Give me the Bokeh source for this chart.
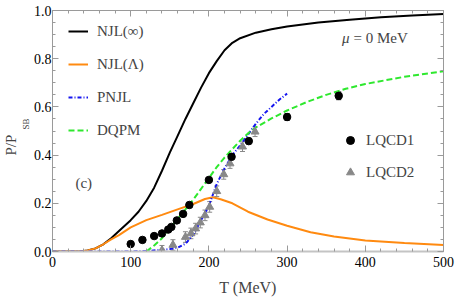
import numpy as np
from bokeh.plotting import figure
from bokeh.models import (Range1d, LinearAxis, SingleIntervalTicker, Legend, LegendItem,
                          Label, Whisker, ColumnDataSource, TeeHead, CustomJSTickFormatter, Title)
from bokeh.embed import file_html
from bokeh.resources import INLINE

# ---- data ----
T_njl_inf = [0, 35, 45, 55, 65, 75, 85, 100, 110, 120, 130, 140, 150, 160, 170, 180, 190, 200,
             210, 220, 230, 240, 260, 280, 300, 340, 380, 420, 460, 500]
P_njl_inf = [0, 0, 0.004, 0.013, 0.03, 0.055, 0.085, 0.13, 0.165, 0.21, 0.265, 0.335, 0.41, 0.48,
             0.55, 0.615, 0.68, 0.74, 0.79, 0.835, 0.866, 0.885, 0.908, 0.922, 0.934, 0.95, 0.962,
             0.972, 0.979, 0.985]

T_njl_lam = [0, 35, 45, 55, 65, 75, 85, 100, 120, 140, 160, 180, 195, 205, 215, 230, 250, 275,
             300, 330, 360, 400, 450, 500]
P_njl_lam = [0, 0, 0.004, 0.013, 0.03, 0.05, 0.068, 0.1, 0.13, 0.152, 0.175, 0.197, 0.218, 0.225,
             0.217, 0.2, 0.165, 0.133, 0.107, 0.08, 0.062, 0.046, 0.035, 0.027]

T_pnjl = [0, 100, 120, 140, 150, 160, 170, 180, 190, 200, 210, 220, 230, 240, 250, 260, 270, 280,
          290, 300]
P_pnjl = [0, 0, 0.002, 0.007, 0.01, 0.016, 0.032, 0.07, 0.13, 0.19, 0.28, 0.345, 0.40, 0.44, 0.485,
          0.53, 0.57, 0.60, 0.63, 0.655]

T_dqpm = [120, 130, 140, 150, 160, 170, 180, 190, 200, 210, 220, 230, 240, 250, 260, 280, 300, 325,
          350, 375, 400, 450, 500]
P_dqpm = [0, 0.025, 0.055, 0.095, 0.135, 0.175, 0.215, 0.26, 0.305, 0.35, 0.39, 0.425, 0.46, 0.49,
          0.515, 0.552, 0.585, 0.62, 0.65, 0.675, 0.695, 0.725, 0.748]

T_lqcd1 = [100, 115, 130, 140, 148, 152, 159, 167, 175, 200, 229, 251, 300, 366]
P_lqcd1 = [0.031, 0.048, 0.064, 0.075, 0.091, 0.102, 0.129, 0.156, 0.193, 0.297, 0.393, 0.458,
           0.558, 0.646]
E_lqcd1 = [0.005, 0.005, 0.005, 0.005, 0.006, 0.006, 0.007, 0.008, 0.008, 0.01, 0.012, 0.012,
           0.014, 0.016]

T_lqcd2 = [140, 154, 170, 177, 183, 189, 195, 201, 210, 219, 227, 243, 259]
P_lqcd2 = [0.005, 0.027, 0.06, 0.075, 0.095, 0.12, 0.15, 0.185, 0.25, 0.32, 0.365, 0.435, 0.497]
E_lqcd2 = [0.02, 0.022, 0.022, 0.022, 0.022, 0.022, 0.022, 0.022, 0.022, 0.02, 0.02, 0.02, 0.02]

x_ticks_interval = 100
y_ticks_interval = 0.2

FONT = "Liberation Serif"
GRAY = "#9a9a9a"

p = figure(width=455, height=298, output_backend="svg", toolbar_location=None,
           x_range=Range1d(0, 500), y_range=Range1d(0, 1.0),
           min_border_left=52, min_border_right=12, min_border_top=10, min_border_bottom=46)
p.outline_line_color = None
p.xgrid.visible = False
p.ygrid.visible = False
p.background_fill_color = "white"


def style_axis(ax, interval, minor, show_labels=True):
    ax.ticker = SingleIntervalTicker(interval=interval, num_minor_ticks=minor)
    ax.major_tick_in = 6
    ax.major_tick_out = 0
    ax.minor_tick_in = 3
    ax.minor_tick_out = 0
    ax.major_tick_line_color = GRAY
    ax.minor_tick_line_color = GRAY
    ax.axis_line_color = GRAY
    ax.major_label_text_font = FONT
    ax.major_label_text_font_size = "14px"
    ax.major_label_text_color = "black"
    ax.axis_label_text_font = FONT
    ax.axis_label_text_font_style = "normal"
    ax.axis_label_text_font_size = "16px"
    if not show_labels:
        ax.formatter = CustomJSTickFormatter(code="return ''")


style_axis(p.xaxis[0], x_ticks_interval, 5)
style_axis(p.yaxis[0], y_ticks_interval, 4)
p.xaxis[0].axis_line_color = "#c4c4c4"
p.xaxis[0].axis_line_width = 2
p.xaxis[0].major_label_standoff = 5
p.yaxis[0].major_label_standoff = 1
p.yaxis[0].axis_label_standoff = 0
p.xaxis[0].axis_label = "T (MeV)"
p.xaxis[0].axis_label_standoff = 9
p.yaxis[0].formatter = CustomJSTickFormatter(code="return tick.toFixed(1)")

top = LinearAxis()
style_axis(top, x_ticks_interval, 5, show_labels=False)
p.add_layout(top, "above")
right = LinearAxis()
style_axis(right, y_ticks_interval, 4, show_labels=False)
p.add_layout(right, "right")

# y label as two titles on the left: "SB" subscript (inner column, higher up), "P/P" outer
p.add_layout(Title(text="SB", align="left", offset=122, standoff=0,
                   text_font=FONT, text_font_size="9px", text_font_style="normal"), "left")
p.add_layout(Title(text="P/P", align="left", offset=96, standoff=0,
                   text_font=FONT, text_font_size="15px", text_font_style="normal"), "left")

# ---- curves ----
r_inf = p.line(T_njl_inf, P_njl_inf, line_color="black", line_width=2)
r_lam = p.line(T_njl_lam, P_njl_lam, line_color="#ff8a10", line_width=2)
r_pnjl = p.line(T_pnjl, P_pnjl, line_color="#1414f0", line_width=2, line_dash="4 2 1 2")
r_dqpm = p.line(T_dqpm, P_dqpm, line_color="#2ee82e", line_width=2, line_dash="6 3")

# ---- lattice data ----
s1 = ColumnDataSource(dict(x=T_lqcd1, y=P_lqcd1,
                           lo=[a - b for a, b in zip(P_lqcd1, E_lqcd1)],
                           hi=[a + b for a, b in zip(P_lqcd1, E_lqcd1)]))
s2 = ColumnDataSource(dict(x=T_lqcd2, y=P_lqcd2,
                           lo=[a - b for a, b in zip(P_lqcd2, E_lqcd2)],
                           hi=[a + b for a, b in zip(P_lqcd2, E_lqcd2)]))
p.add_layout(Whisker(source=s2, base="x", lower="lo", upper="hi", line_color="#888888",
                     line_width=1,
                     upper_head=TeeHead(size=5, line_color="#888888"),
                     lower_head=TeeHead(size=5, line_color="#888888")))
p.add_layout(Whisker(source=s1, base="x", lower="lo", upper="hi", line_color="black",
                     line_width=1,
                     upper_head=TeeHead(size=5, line_color="black"),
                     lower_head=TeeHead(size=5, line_color="black")))
r_l2 = p.scatter("x", "y", source=s2, marker="triangle", size=8, fill_color="#888888",
                 line_color="#888888")
r_l1 = p.scatter("x", "y", source=s1, marker="circle", size=7.5, fill_color="black",
                 line_color="black")

# ---- legends ----
leg1 = Legend(items=[LegendItem(label="NJL(∞)", renderers=[r_inf]),
                     LegendItem(label="NJL(Λ)", renderers=[r_lam]),
                     LegendItem(label="PNJL", renderers=[r_pnjl]),
                     LegendItem(label="DQPM", renderers=[r_dqpm])],
              location=(16, 111), spacing=13, padding=0, margin=0,
              glyph_width=20, glyph_height=20, label_height=20, label_standoff=9,
              label_text_font=FONT, label_text_font_size="15px",
              background_fill_alpha=0, border_line_alpha=0)
leg2 = Legend(items=[LegendItem(label="LQCD1", renderers=[r_l1]),
                     LegendItem(label="LQCD2", renderers=[r_l2])],
              location=(288, 69), spacing=12, padding=0, margin=0,
              glyph_width=20, glyph_height=20, label_height=20, label_standoff=6,
              label_text_font=FONT, label_text_font_size="15px",
              background_fill_alpha=0, border_line_alpha=0)
p.add_layout(leg1)
p.add_layout(leg2)

# ---- annotations ----
p.add_layout(Label(x=40, y=0.285, text="(c)", text_font=FONT, text_font_size="15px",
                   text_align="center", text_baseline="middle"))
p.add_layout(Label(x=375, y=0.884, text="μ", text_font=FONT, text_font_style="italic",
                   text_font_size="15px", text_align="center", text_baseline="middle"))
p.add_layout(Label(x=385, y=0.884, text="= 0 MeV", text_font=FONT, text_font_size="15px",
                   text_align="left", text_baseline="middle"))

open("out.html", "w").write(file_html(p, INLINE))
